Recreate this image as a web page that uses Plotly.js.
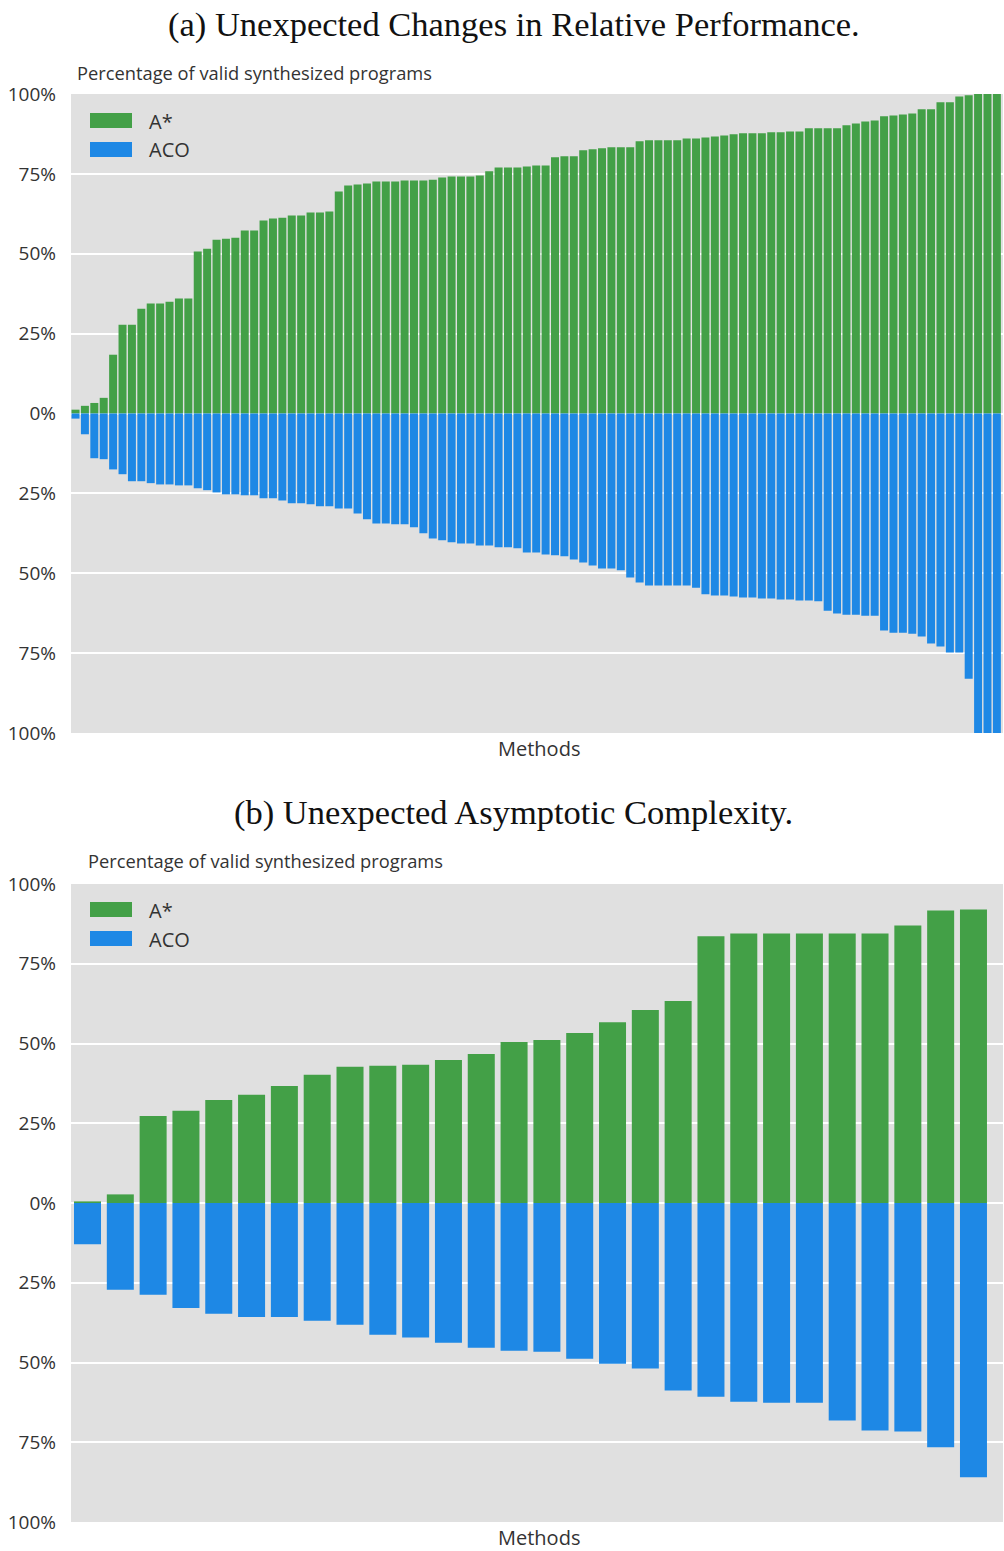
<!DOCTYPE html>
<html>
<head>
<meta charset="utf-8">
<script src="https://cdn.plot.ly/plotly-3.0.1.min.js"></script>
<style>
  html, body { margin: 0; padding: 0; background: #ffffff; }
  #chart { width: 1004px; height: 1551px; }
</style>
</head>
<body>
<div id="chart"></div>
<script>
// (a) Unexpected changes in relative performance: share of valid programs per method
const relPerfAStar = [
  1.2, 2.4, 3.3, 4.9, 18.4, 27.8, 27.8, 32.8, 34.4, 34.4,
  35.0, 36.0, 36.0, 50.7, 51.6, 54.4, 54.7, 55.0, 57.3, 57.3,
  60.4, 61.0, 61.3, 62.0, 62.0, 62.9, 62.9, 63.2, 69.5, 71.4,
  71.7, 72.0, 72.6, 72.6, 72.6, 72.9, 72.9, 72.9, 73.2, 73.9,
  74.2, 74.2, 74.2, 74.5, 75.8, 77.0, 77.0, 77.0, 77.3, 77.6,
  77.6, 80.2, 80.5, 80.5, 82.4, 82.7, 83.0, 83.3, 83.3, 83.3,
  85.2, 85.5, 85.5, 85.5, 85.5, 86.1, 86.1, 86.4, 86.7, 87.0,
  87.4, 87.7, 87.7, 87.7, 88.0, 88.0, 88.3, 88.3, 89.3, 89.3,
  89.3, 89.3, 90.2, 90.8, 91.4, 91.7, 93.0, 93.3, 93.6, 93.9,
  95.2, 95.2, 97.4, 97.4, 99.2, 99.6, 100, 100, 100
];
const relPerfACO = [
  1.6, 6.5, 14.0, 14.3, 17.5, 19.0, 21.2, 21.2, 21.8, 22.2,
  22.2, 22.5, 22.5, 23.4, 24.0, 24.7, 25.3, 25.3, 25.6, 25.6,
  26.5, 26.5, 27.2, 28.1, 28.1, 28.4, 29.0, 29.0, 29.7, 29.7,
  31.3, 33.1, 34.4, 34.4, 34.7, 34.7, 35.6, 37.5, 39.1, 39.7,
  40.3, 40.7, 40.7, 41.3, 41.3, 41.9, 41.9, 42.2, 43.5, 43.5,
  44.1, 44.4, 44.7, 45.7, 46.6, 47.6, 48.5, 48.5, 49.1, 51.3,
  52.9, 53.8, 53.8, 53.8, 53.8, 53.8, 54.5, 56.6, 57.0, 57.0,
  57.3, 57.6, 57.6, 57.9, 57.9, 58.2, 58.2, 58.5, 58.5, 58.8,
  61.7, 62.6, 63.0, 63.0, 63.3, 63.3, 67.9, 68.6, 68.6, 68.9,
  69.8, 72.0, 72.9, 74.8, 74.8, 83.0, 100, 100, 100
];

// (b) Unexpected asymptotic complexity
const asymAStar = [
  0.5, 2.7, 27.3, 28.9, 32.3, 33.9, 36.7, 40.2, 42.7, 43.0,
  43.3, 44.8, 46.7, 50.5, 51.1, 53.3, 56.7, 60.5, 63.3, 83.6,
  84.5, 84.5, 84.5, 84.5, 84.5, 87.0, 91.7, 92.0
];
const asymACO = [
  12.9, 27.2, 28.8, 32.9, 34.7, 35.7, 35.7, 36.9, 38.2, 41.3,
  42.2, 43.8, 45.4, 46.3, 46.6, 48.8, 50.4, 51.9, 58.8, 60.7,
  62.3, 62.6, 62.6, 68.2, 71.3, 71.6, 76.6, 86.0
];

// Shared y ticks: ACO is plotted downward, labels show magnitudes
const tickVals = [-100, -75, -50, -25, 0, 25, 50, 75, 100];
const tickText = ['100%', '75%', '50%', '25%', '0%', '25%', '50%', '75%', '100%'];

const seriesNames = ['A*', 'ACO'];
const seriesColors = ['#43a047', '#1e88e5'];

const methodIds = n => Array.from({length: n}, (_, i) => 'M' + (i + 1));
const relMethods = methodIds(relPerfAStar.length);
const asymMethods = methodIds(asymAStar.length);

const W = 1004, H = 1551;
const px = v => v / W;           // horizontal pixel -> paper
const py = v => 1 - v / H;       // vertical pixel -> paper

const sans = 'Open Sans, Noto Sans, sans-serif';
const serif = 'Liberation Serif, DejaVu Serif, serif';
const textColor = '#333333';

function barTrace(name, xs, vals, sign, color, xa, ya, barWidth) {
  return {
    type: 'bar', name: name, x: xs, y: vals.map(v => sign * v),
    width: barWidth,
    marker: {color: color, line: {width: 0}},
    xaxis: xa, yaxis: ya, showlegend: false,
    hovertemplate: '%{x}: ' + '%{customdata}%<extra>' + name + '</extra>',
    customdata: vals
  };
}

const data = [
  barTrace(seriesNames[0], relMethods, relPerfAStar, 1, seriesColors[0], 'x', 'y', 0.85),
  barTrace(seriesNames[1], relMethods, relPerfACO, -1, seriesColors[1], 'x', 'y', 0.85),
  barTrace(seriesNames[0], asymMethods, asymAStar, 1, seriesColors[0], 'x2', 'y2', 0.823),
  barTrace(seriesNames[1], asymMethods, asymACO, -1, seriesColors[1], 'x2', 'y2', 0.823)
];

const yAxisBase = {
  range: [-100, 100], tickvals: tickVals, ticktext: tickText,
  showgrid: true, gridcolor: '#ffffff', gridwidth: 2,
  zeroline: true, zerolinecolor: '#ffffff', zerolinewidth: 2,
  showline: false, ticks: '', ticklabelstandoff: 14,
  tickfont: {family: sans, size: 19, color: textColor},
  fixedrange: true, automargin: false
};
const xAxisBase = {
  type: 'category', showticklabels: false, showgrid: false, zeroline: false,
  showline: false, ticks: '', fixedrange: true, automargin: false
};

// Plot areas in pixels
const topBox = {x0: 71, x1: 1003, y0: 94, y1: 733};
const botBox = {x0: 71, x1: 1003, y0: 884, y1: 1522};

const layout = {
  width: W, height: H,
  margin: {l: 0, r: 0, t: 0, b: 0},
  paper_bgcolor: '#ffffff', plot_bgcolor: '#e0e0e0',
  barmode: 'relative',
  showlegend: false,
  xaxis: Object.assign({}, xAxisBase, {
    domain: [px(topBox.x0), px(topBox.x1)], range: [-0.48, 98.65], anchor: 'y'
  }),
  yaxis: Object.assign({}, yAxisBase, {
    domain: [py(topBox.y1), py(topBox.y0)], anchor: 'x'
  }),
  xaxis2: Object.assign({}, xAxisBase, {
    domain: [px(botBox.x0), px(botBox.x1)], range: [-0.503, 27.9], anchor: 'y2'
  }),
  yaxis2: Object.assign({}, yAxisBase, {
    domain: [py(botBox.y1), py(botBox.y0)], anchor: 'x2'
  }),
  shapes: [],
  annotations: []
};

function addPanelText(title, titleY, axisTitleX, axisTitleY, box, legendTop) {
  layout.annotations.push({
    text: title, xref: 'paper', yref: 'paper',
    x: 0.5115, y: py(titleY), xanchor: 'center', yanchor: 'middle',
    showarrow: false, font: {family: serif, size: 34.5, color: '#111111'}
  });
  layout.annotations.push({
    text: 'Percentage of valid synthesized programs', xref: 'paper', yref: 'paper',
    x: px(axisTitleX), y: py(axisTitleY), xanchor: 'left', yanchor: 'middle',
    showarrow: false, font: {family: sans, size: 18.3, color: textColor}
  });
  layout.annotations.push({
    text: 'Methods', xref: 'paper', yref: 'paper',
    x: px((box.x0 + box.x1) / 2 + 2), y: py(box.y1 + 15), xanchor: 'center', yanchor: 'middle',
    borderpad: 0,
    showarrow: false, font: {family: sans, size: 20, color: textColor}
  });
  // Legend swatches and labels
  seriesNames.forEach((name, i) => {
    const top = legendTop + i * 29;
    layout.shapes.push({
      type: 'rect', xref: 'paper', yref: 'paper',
      x0: px(90), x1: px(132), y0: py(top + 15), y1: py(top),
      fillcolor: seriesColors[i], line: {width: 0}
    });
    layout.annotations.push({
      text: name, xref: 'paper', yref: 'paper',
      x: px(147), y: py(top + 8), xanchor: 'left', yanchor: 'middle',
      showarrow: false, font: {family: sans, size: 20, color: textColor}
    });
  });
}

addPanelText('(a) Unexpected Changes in Relative Performance.', 24, 75, 72, topBox, 113);
addPanelText('(b) Unexpected Asymptotic Complexity.', 812, 86, 861, botBox, 902);

Plotly.newPlot('chart', data, layout, {displayModeBar: false, staticPlot: true});
</script>
</body>
</html>
